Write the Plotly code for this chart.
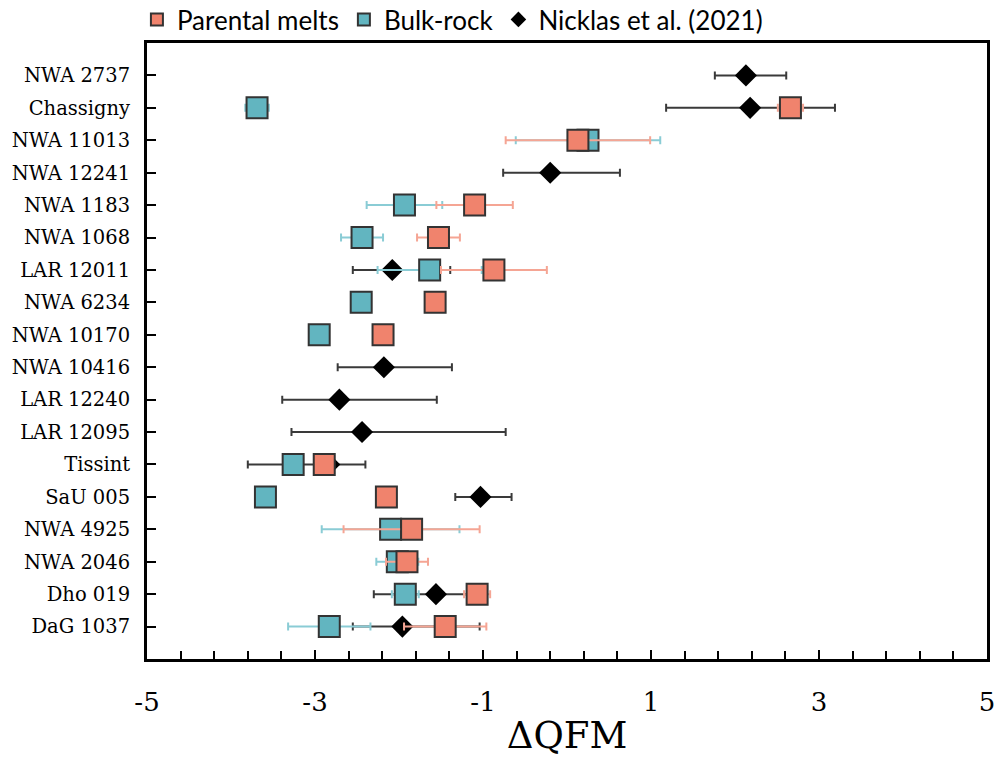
import plotly.graph_objects as go

names = ["NWA 2737", "Chassigny", "NWA 11013", "NWA 12241", "NWA 1183", "NWA 1068",
         "LAR 12011", "NWA 6234", "NWA 10170", "NWA 10416", "LAR 12240", "LAR 12095",
         "Tissint", "SaU 005", "NWA 4925", "NWA 2046", "Dho 019", "DaG 1037"]

parental = [None, 2.66, 0.13, None, -1.10, -1.53, -0.87, -1.57, -2.19, None, None, None,
            -2.89, -2.15, -1.85, -1.905, -1.07, -1.45]
parental_err = [None, 0.15, 0.86, None, 0.455, 0.255, 0.63, 0, 0, None, None, None,
                0, 0, 0.81, 0.25, 0.155, 0.49]

bulk = [None, -3.69, 0.25, None, -1.935, -2.44, -1.635, -2.45, -2.95, None, None, None,
        -3.26, -3.59, -2.10, -2.02, -1.925, -2.83]
bulk_err = [None, 0.14, 0.86, None, 0.45, 0.25, 0.62, 0, 0, None, None, None,
            0, 0, 0.82, 0.25, 0.16, 0.49]

nicklas = [2.13, 2.18, None, -0.20, None, None, -2.08, None, None, -2.18, -2.71, -2.44,
           -2.83, -1.03, None, None, -1.56, -1.96]
nicklas_minus = [0.37, 1.00, None, 0.56, None, None, 0.47, None, None, 0.55, 0.68, 0.84,
                 0.97, 0.30, None, None, 0.74, 0.59]
nicklas_plus = [0.48, 1.01, None, 0.83, None, None, 0.69, None, None, 0.81, 1.16, 1.71,
                0.43, 0.37, None, None, 0.50, 0.92]

x_ticks = [-5, -3, -1, 1, 3, 5]

ypos = list(range(len(names)))

SALMON = "#F0836D"
TEAL = "#62B5C0"
EDGE = "#333333"

fig = go.Figure()

fig.add_trace(go.Scatter(
    x=nicklas, y=ypos, mode="markers", name="Nicklas et al. (2021)",
    marker=dict(symbol="diamond", size=17, color="black", line=dict(width=0)),
    error_x=dict(type="data", symmetric=False, array=nicklas_plus, arrayminus=nicklas_minus,
                 color="#3a3a3a", thickness=2, width=4),
))

fig.add_trace(go.Scatter(
    x=bulk, y=ypos, mode="markers", name="Bulk-rock",
    marker=dict(symbol="square", size=21, color=TEAL, line=dict(width=2, color=EDGE)),
    error_x=dict(type="data", array=bulk_err, color="#8ACCD5", thickness=2, width=4),
))

fig.add_trace(go.Scatter(
    x=parental, y=ypos, mode="markers", name="Parental melts",
    marker=dict(symbol="square", size=21, color=SALMON, line=dict(width=2, color=EDGE)),
    error_x=dict(type="data", array=parental_err, color="#F5A594", thickness=2, width=4),
))

fig.update_layout(
    width=994, height=757,
    margin=dict(l=147, r=7, t=43, b=98, autoexpand=False),
    plot_bgcolor="white", paper_bgcolor="white",
    showlegend=True,
    legend=dict(orientation="h", x=-0.012, xanchor="left", y=1.0, yanchor="bottom",
                traceorder="reversed", font=dict(family="Lato", size=26, color="black"),
                itemsizing="constant", bgcolor="rgba(0,0,0,0)"),
    font=dict(family="DejaVu Serif", color="black"),
)

fig.update_xaxes(
    range=[-5, 5], showgrid=False, zeroline=False,
    showline=True, linecolor="black", linewidth=3, mirror=True,
    tickmode="array", tickvals=x_ticks, ticktext=[str(v) for v in x_ticks],
    ticks="inside", ticklen=9, tickwidth=1.5, tickcolor="black",
    minor=dict(tickmode="linear", tick0=-5, dtick=0.4, ticks="inside", ticklen=8,
               tickwidth=1.5, tickcolor="black", showgrid=False),
    tickfont=dict(family="DejaVu Serif", size=26, color="black"),
    ticklabelstandoff=18, ticklabeloverflow="allow",
    title=dict(text="ΔQFM", font=dict(family="DejaVu Serif", size=37, color="black"),
               standoff=14),
)

fig.update_yaxes(
    range=[18, -1], showgrid=False, zeroline=False,
    showline=True, linecolor="black", linewidth=3, mirror=True,
    tickmode="array", tickvals=ypos, ticktext=names,
    ticks="inside", ticklen=9, tickwidth=1.5, tickcolor="black",
    tickfont=dict(family="DejaVu Serif", size=19.5, color="black"),
    ticklabelstandoff=10,
)

fig.write_html("out.html")
